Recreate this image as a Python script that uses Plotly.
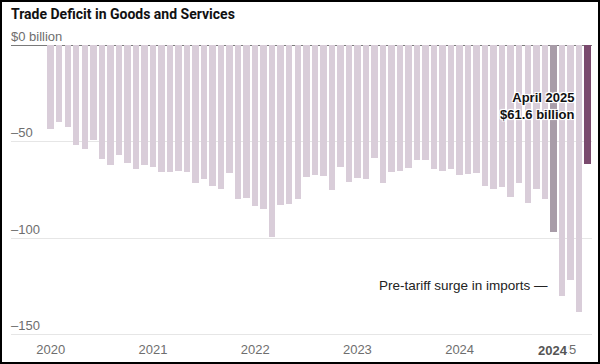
import plotly.graph_objects as go
import pandas as pd

# ---- data ----
months = [d.strftime("%b %Y") for d in pd.date_range("2020-01-01", periods=64, freq="MS")]
deficit = [
    -43.4, -40.0, -42.4, -51.9, -54.0, -49.1, -59.0, -61.9, -57.1, -61.2, -64.4, -62.1,   # 2020
    -62.9, -65.7, -65.7, -65.3, -65.9, -71.4, -69.3, -72.8, -74.8, -66.2, -79.5, -79.3,   # 2021
    -83.6, -84.8, -99.7, -82.9, -82.4, -80.0, -68.3, -67.1, -67.8, -75.0, -62.9, -70.7,   # 2022
    -69.0, -69.3, -58.6, -71.2, -66.0, -65.2, -63.8, -59.3, -59.7, -64.1, -65.0, -64.0,   # 2023
    -67.1, -66.6, -66.4, -72.9, -74.4, -73.6, -78.5, -71.2, -81.6, -74.7, -79.7, -97.1,   # 2024
    -130.2, -121.9, -138.5, -61.6,                                                         # 2025
]
year_ticks = ["2020", "2021", "2022", "2023", "2024", "2025"]
y_ticks = [0, -50, -100, -150]
y_tick_text = ["$0 billion", "\u201350", "\u2013100", "\u2013150"]
compare_month = "Dec 2024"
latest_month = "Apr 2025"

# ---- styling ----
LIGHT = "#d9cdd9"
COMPARE = "#a89ca8"
LATEST = "#7a4a6e"
GREY_TXT = "#6e6e6e"
FONT = "Liberation Sans, Arial, sans-serif"

x = list(range(len(months)))
colors = [COMPARE if m == compare_month else LATEST if m == latest_month else LIGHT for m in months]

fig = go.Figure(go.Bar(
    x=x, y=deficit, marker=dict(color=colors, line=dict(width=0)),
    width=0.76, customdata=months,
    hovertemplate="%{customdata}: $%{y:.1f}B<extra></extra>",
))

W, H = 600, 364
L, R, T, B = 11, 8, 24, 24
pw, ph = W - L - R, H - T - B
zero_px, px_per_unit = 45.3, 1.927
first_px, pitch = 50.7, 8.519
x_lo = (L - first_px) / pitch
x_hi = (W - R - first_px) / pitch
y_hi = (zero_px - T) / px_per_unit
y_lo = -(H - B - zero_px) / px_per_unit

year_pos = [months.index("Jan " + y) for y in year_ticks]

fig.update_layout(
    width=W, height=H, margin=dict(l=L, r=R, t=T, b=B),
    paper_bgcolor="white", plot_bgcolor="white", showlegend=False,
    bargap=0,
    font=dict(family=FONT, size=13, color=GREY_TXT),
    title=dict(text="<b>Trade Deficit in Goods and Services</b>", x=L / W, xanchor="left",
               y=1 - 14 / H, yanchor="middle",
               font=dict(family="Roboto, Liberation Sans, sans-serif", size=14, color="#111")),
    xaxis=dict(range=[x_lo, x_hi], tickvals=year_pos, ticktext=year_ticks, showgrid=False,
               zeroline=False, showline=False, ticks="", tickfont=dict(size=13, color=GREY_TXT),
               fixedrange=True),
    yaxis=dict(range=[y_lo, y_hi], tickvals=y_ticks, showticklabels=False,
               showgrid=True, gridcolor="#e6e6e6", gridwidth=1,
               zeroline=True, zerolinecolor="#7a7a7a", zerolinewidth=1, showline=False,
               ticks="", fixedrange=True),
)

# y-axis labels sitting above their gridlines
for v, t in zip(y_ticks, y_tick_text):
    fig.add_annotation(x=0, y=v, xref="paper", yref="y", text=t, showarrow=False,
                       xanchor="left", yanchor="middle", yshift=9, xshift=-2,
                       font=dict(family=FONT, size=13, color=GREY_TXT))

halo = "1px 1px 0 #fff, -1px -1px 0 #fff, 1px -1px 0 #fff, -1px 1px 0 #fff, 0 0 3px #fff"
last_val = deficit[months.index(latest_month)]
fig.add_annotation(
    x=months.index(latest_month), y=-31.5, xref="x", yref="y",
    text=f"<b>April 2025</b><br><b>${-last_val:.1f} billion</b>",
    showarrow=False, xanchor="right", yanchor="middle", align="right", xshift=-11,
    font=dict(family=FONT, size=13, color="#111", shadow=halo),
)
fig.add_annotation(
    x=months.index("Oct 2024") + 0.4, y=-124.8, xref="x", yref="y",
    text="Pre-tariff surge in imports \u2014",
    showarrow=False, xanchor="right", yanchor="middle", xshift=10,
    font=dict(family=FONT, size=13.5, color="#222"),
)
fig.add_annotation(
    x=months.index(compare_month), y=0, xref="x", yref="paper", yanchor="top", yshift=-2,
    text="<b>2024</b>", showarrow=False, bgcolor="white", borderpad=0,
    font=dict(family=FONT, size=13, color="#555"),
)

# border around the graphic
fig.add_shape(type="rect", xref="paper", yref="paper",
              x0=(1 - L) / pw, x1=(W - 1 - L) / pw,
              y0=-(H - 1 - (H - B)) / ph, y1=1 + (T - 1) / ph,
              line=dict(color="#000", width=2), fillcolor="rgba(0,0,0,0)", layer="above")

fig.write_html("out.html", config={"displayModeBar": False},
               post_script="document.body.style.margin='0';")
